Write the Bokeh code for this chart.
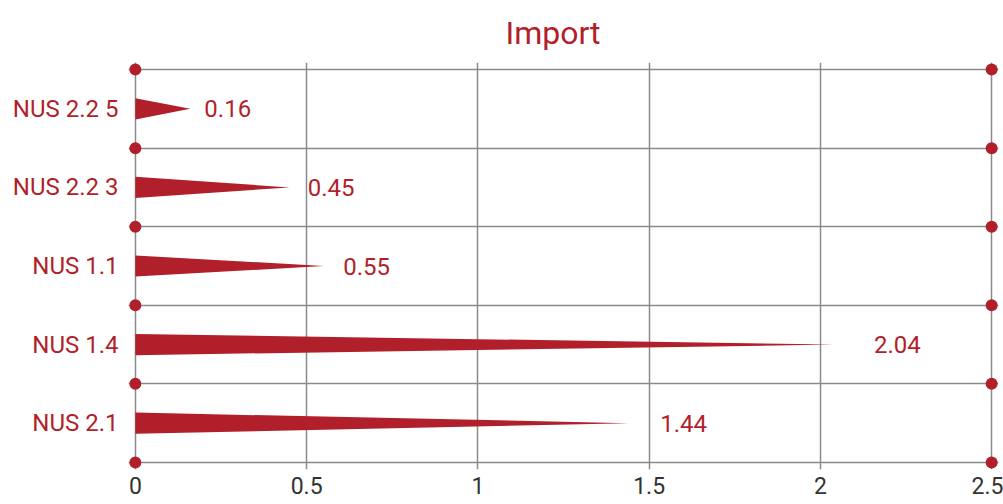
from bokeh.plotting import figure
from bokeh.models import ColumnDataSource, Range1d, FixedTicker
from bokeh.embed import file_html
from bokeh.resources import INLINE

categories = ["NUS 2.2 5", "NUS 2.2 3", "NUS 1.1", "NUS 1.4", "NUS 2.1"]
values = [0.16, 0.45, 0.55, 2.04, 1.44]
x_ticks = [0, 0.5, 1, 1.5, 2, 2.5]
x_tick_labels = ["0", "0.5", "1", "1.5", "2", "2.5"]

RED = "#b11f2b"
GRID = "#8a8a8a"
FONT = "Roboto"

n = len(categories)
centers = [n - i - 0.5 for i in range(n)]
half = 0.135

p = figure(width=1003, height=504, output_backend="svg", toolbar_location=None,
           x_range=Range1d(-0.02, 2.52), y_range=Range1d(-0.09, n + 0.09),
           min_border_left=128, min_border_right=5, min_border_top=60, min_border_bottom=35)
p.outline_line_color = None
p.background_fill_color = "white"
p.border_fill_color = "white"

p.title.text = "Import"
p.title.align = "left"
p.title.offset = 377
p.title.standoff = 22
p.title.text_font = FONT
p.title.text_font_size = "32px"
p.title.text_font_style = "normal"
p.title.text_color = RED

# grids
p.xgrid.ticker = FixedTicker(ticks=x_ticks)
p.xgrid.bounds = (0, n)
p.xgrid.grid_line_color = GRID
p.xgrid.grid_line_width = 1.5
p.ygrid.ticker = FixedTicker(ticks=list(range(n + 1)))
p.ygrid.bounds = (0, 2.5)
p.ygrid.grid_line_color = GRID
p.ygrid.grid_line_width = 1.5

# axes
p.xaxis.ticker = FixedTicker(ticks=x_ticks)
p.xaxis.major_label_overrides = {t: l for t, l in zip(x_ticks, x_tick_labels)}
p.xaxis.axis_line_color = None
p.xaxis.major_tick_line_color = None
p.xaxis.minor_tick_line_color = None
p.xaxis.major_tick_out = 0
p.xaxis.major_label_standoff = 7
p.xaxis.major_label_text_font = FONT
p.xaxis.major_label_text_font_size = "23px"
p.xaxis.major_label_text_color = "#333333"

p.yaxis.ticker = FixedTicker(ticks=centers)
p.yaxis.major_label_overrides = {c: cat for c, cat in zip(centers, categories)}
p.yaxis.axis_line_color = None
p.yaxis.major_tick_line_color = None
p.yaxis.minor_tick_line_color = None
p.yaxis.major_tick_out = 0
p.yaxis.major_label_standoff = 10
p.yaxis.major_label_text_font = FONT
p.yaxis.major_label_text_font_size = "24px"
p.yaxis.major_label_text_color = RED

# wedges (triangles from 0 to the value)
xs = [[0, v, 0] for v in values]
ys = [[c - half, c, c + half] for c in centers]
src = ColumnDataSource(dict(xs=xs, ys=ys, c=centers,
                            lx=[v * 1.04 for v in values],
                            lab=[("%g" % v) for v in values]))
p.patches("xs", "ys", source=src, fill_color=RED, line_color=None)

# value labels
p.text(x="lx", y="c", text="lab", source=src, x_offset=12,
       text_baseline="middle", text_align="left",
       text_font={"value": FONT}, text_font_size={"value": "24px"}, text_color=RED)

# dots at boundaries on both edges
bx = [0] * (n + 1) + [2.5] * (n + 1)
by = list(range(n + 1)) * 2
p.scatter(bx, by, size=12, fill_color=RED, line_color=None)

open("out.html", "w").write(file_html(p, INLINE))
